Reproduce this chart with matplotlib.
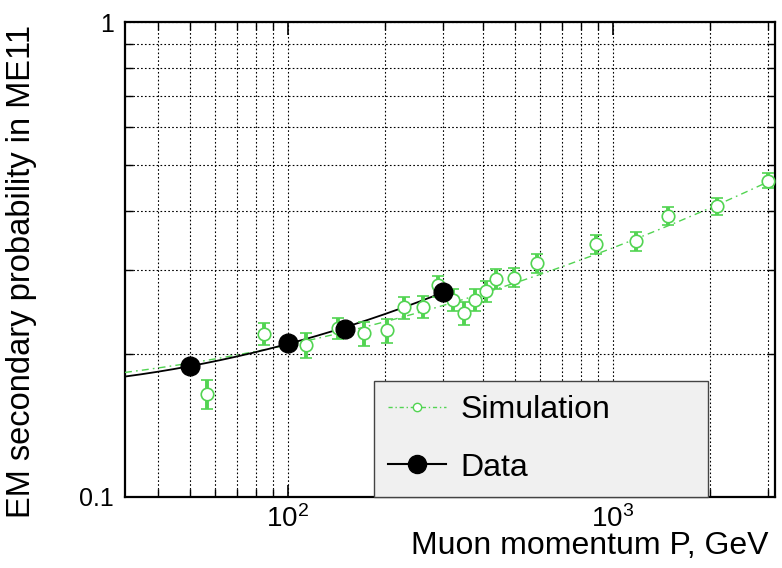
import numpy as np
import matplotlib
matplotlib.use("Agg")
import matplotlib.pyplot as plt
from matplotlib.ticker import LogLocator, FixedLocator, NullFormatter, FixedFormatter
from matplotlib.lines import Line2D

plt.rcParams['font.family'] = ['Liberation Sans', 'DejaVu Sans']
plt.rcParams['mathtext.fontset'] = 'custom'
plt.rcParams['mathtext.rm'] = 'Liberation Sans'
plt.rcParams['mathtext.it'] = 'Liberation Sans:italic'

# ---- data ----
sim_p = [56.4, 84.9, 113.6, 142.5, 171.4, 201.7, 229, 260.3, 289.4, 321.9, 347.9,
         376.2, 406.7, 436.5, 496, 587.6, 886.6, 1185, 1487, 2104, 3020]
sim_v = [0.165, 0.220, 0.209, 0.227, 0.2215, 0.225, 0.251, 0.251, 0.2795, 0.260, 0.244,
         0.260, 0.2715, 0.288, 0.289, 0.311, 0.341, 0.346, 0.3905, 0.410, 0.463]
sim_hi = [0.176, 0.232, 0.2215, 0.238, 0.2335, 0.237, 0.264, 0.265, 0.292, 0.274, 0.257,
          0.274, 0.285, 0.302, 0.303, 0.325, 0.356, 0.361, 0.408, 0.426, 0.481]
sim_lo = [0.153, 0.209, 0.196, 0.215, 0.208, 0.211, 0.237, 0.238, 0.264, 0.246, 0.230,
          0.246, 0.257, 0.274, 0.277, 0.296, 0.325, 0.330, 0.374, 0.392, 0.447]

data_p = [50, 100, 150, 300]
data_v = [0.189, 0.211, 0.226, 0.270]

# fit curves
data_fit_p = [31.6, 50, 100, 150, 300]
data_fit_v = [0.179, 0.189, 0.211, 0.226, 0.270]
sim_fit_p = [31.6, 70, 102, 168, 521, 3000]
sim_fit_v = [0.185, 0.198, 0.206, 0.227, 0.290, 0.458]

x_ticks = [100, 1000]
x_ticklabels = [r'$10^{2}$', r'$10^{3}$']
y_ticks = [0.1, 1]
y_ticklabels = ['0.1', '1']

green = '#52d452'

fig = plt.figure(figsize=(7.82, 5.68), dpi=100)
ax = fig.add_axes([0.160, 0.125, 0.831, 0.836])
ax.set_xscale('log')
ax.set_yscale('log')
ax.set_xlim(10**1.5, 10**3.5)
ax.set_ylim(0.1, 1)

# smooth fit curves
def smooth(px, py, lo, hi):
    c = np.polyfit(np.log10(px), np.log10(py), 2)
    xx = np.logspace(np.log10(lo), np.log10(hi), 200)
    return xx, 10**np.polyval(c, np.log10(xx))

sx, sy = smooth(sim_fit_p, sim_fit_v, sim_fit_p[0], sim_fit_p[-1])
ax.plot(sx, sy, color=green, lw=1.0, dashes=[5, 3, 1.2, 3], zorder=3)

dx, dy = smooth(data_fit_p, data_fit_v, data_fit_p[0], data_fit_p[-1])
ax.plot(dx, dy, color='black', lw=1.3, zorder=4)

sim_v_a = np.array(sim_v)
yerr = [sim_v_a - np.array(sim_lo), np.array(sim_hi) - sim_v_a]
ax.errorbar(sim_p, sim_v, yerr=yerr, fmt='o', color=green, ecolor=green,
            elinewidth=2.8, capsize=4.5, capthick=3.5, markersize=9,
            markerfacecolor='white', markeredgecolor=green, markeredgewidth=1.2,
            zorder=5)

ax.plot(data_p, data_v, 'o', color='black', markersize=13.5, zorder=6)

# axes styling
for s in ax.spines.values():
    s.set_linewidth(1.6)
ax.xaxis.set_major_locator(FixedLocator(x_ticks))
ax.xaxis.set_major_formatter(FixedFormatter(x_ticklabels))
ax.xaxis.set_minor_locator(LogLocator(base=10, subs=np.arange(2, 10)))
ax.xaxis.set_minor_formatter(NullFormatter())
ax.yaxis.set_major_locator(FixedLocator(y_ticks))
ax.yaxis.set_major_formatter(FixedFormatter(y_ticklabels))
ax.yaxis.set_minor_locator(LogLocator(base=10, subs=np.arange(2, 10)))
ax.yaxis.set_minor_formatter(NullFormatter())
ax.tick_params(which='both', direction='in', top=True, right=True, labelsize=18)
ax.tick_params(axis='x', which='major', labelsize=20)
ax.tick_params(which='major', length=9, width=1.2)
ax.tick_params(which='minor', length=6, width=1.0)
ax.tick_params(axis='x', pad=6)
ax.tick_params(axis='y', pad=8)

ax.grid(True, which='both', color='black', linestyle=(0, (1.5, 2)), linewidth=0.8)
ax.set_axisbelow(True)

ax.set_xlabel('Muon momentum P, GeV', fontsize=23, ha='right')
ax.xaxis.set_label_coords(0.99, -0.072, transform=ax.transAxes)
ax.xaxis.label.set_va('top')
ax.set_ylabel('EM secondary probability in ME11', fontsize=23.5)
ax.yaxis.set_label_coords(-0.136, 0.475)

h_sim = Line2D([], [], color=green, lw=1.0, dashes=[3, 2, 1, 2], marker='o',
               markersize=6, markerfacecolor='white', markeredgecolor=green)
h_dat = Line2D([], [], color='black', lw=1.5, marker='o', markersize=13)
leg = ax.legend([h_sim, h_dat], ['Simulation', 'Data'], loc='lower left',
                bbox_to_anchor=(0.383, 0.0, 0.514, 0.2505), mode='expand',
                borderaxespad=0, fontsize=23, frameon=True, fancybox=False,
                facecolor='#f0f0f0', edgecolor='#444444', framealpha=1,
                handlelength=1.8, handletextpad=0.45, labelspacing=0.85,
                borderpad=0.45)
leg.get_frame().set_linewidth(1.0)
leg.set_zorder(10)

fig.savefig('out.png', dpi=100)
